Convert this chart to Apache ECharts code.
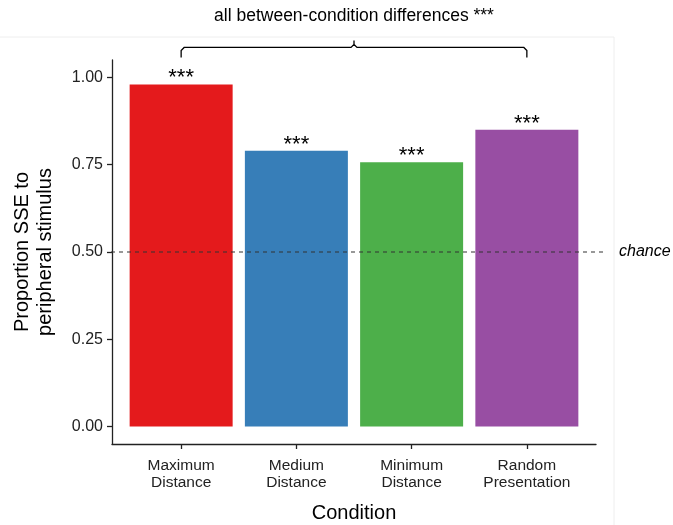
<!DOCTYPE html>
<html>
<head>
<meta charset="utf-8">
<script src="https://cdn.jsdelivr.net/npm/echarts@6/dist/echarts.min.js"></script>
<style>
  html, body { margin: 0; background: #fff; }
  #chart { width: 673px; height: 525px; }
</style>
</head>
<body>
<div id="chart"></div>
<script>
// data
var conditions = ['Maximum\nDistance', 'Medium\nDistance', 'Minimum\nDistance', 'Random\nPresentation'];
var xPositions = [1, 2, 3, 4];
var proportions = [0.98, 0.79, 0.757, 0.85];
var barColors = ['#E41A1C', '#377EB8', '#4DAF4A', '#984EA3'];
var yTicks = [0, 0.25, 0.5, 0.75, 1];
var chanceLevel = 0.5;
var bracketText = 'all between-condition differences ***';

var font = 'Liberation Sans, Arial, sans-serif';
var chart = echarts.init(document.getElementById('chart'));

var option = {
    animation: false,
    backgroundColor: '#fff',
    grid: { left: 112, right: 77, top: 60, bottom: 81, outerBoundsMode: 'none', containLabel: false },
    xAxis: {
        type: 'value',
        min: 0.4,
        max: 4.6,
        name: 'Condition',
        nameLocation: 'middle',
        nameGap: 59,
        nameTextStyle: { fontFamily: font, fontSize: 20, color: '#000' },
        axisLine: { show: true, onZero: false, lineStyle: { color: '#222', width: 1.3 } },
        axisTick: { show: true, customValues: xPositions, length: 5, lineStyle: { color: '#222', width: 1.3 } },
        axisLabel: {
            customValues: xPositions,
            formatter: function (v) { return conditions[Math.round(v) - 1]; },
            fontFamily: font, fontSize: 15.5, color: '#222', lineHeight: 17, margin: 13
        },
        splitLine: { show: false }
    },
    yAxis: {
        type: 'value',
        min: -0.05,
        max: 1.05,
        name: 'Proportion SSE to\nperipheral stimulus',
        nameLocation: 'middle',
        nameGap: 55,
        nameTextStyle: { fontFamily: font, fontSize: 20, color: '#000', lineHeight: 23 },
        axisLine: { show: true, onZero: false, lineStyle: { color: '#222', width: 1.3 } },
        axisTick: { show: true, customValues: yTicks, length: 5, lineStyle: { color: '#222', width: 1.3 } },
        axisLabel: {
            customValues: yTicks,
            formatter: function (v) { return v.toFixed(2); },
            fontFamily: font, fontSize: 16, color: '#222', margin: 9
        },
        splitLine: { show: false }
    },
    series: [{
        type: 'bar',
        barWidth: 103,
        data: xPositions.map(function (x, i) {
            return { value: [x, proportions[i]], itemStyle: { color: barColors[i] } };
        }),
        label: {
            show: true,
            position: 'top',
            distance: -5,
            formatter: '***',
            fontFamily: font, fontSize: 22, color: '#000'
        }
    }]
};
chart.setOption(option);

// annotations placed through the axis scales
function px(x, y) { return chart.convertToPixel({ gridIndex: 0 }, [x, y]); }
var chanceL = px(0.4, chanceLevel);
var left = px(1, 1.057), right = px(4, 1.057);
var barY = px(1, 1.086)[1], midTop = px(2.5, 1.106);
var mid = (left[0] + right[0]) / 2;

chart.setOption({
    graphic: [
        { type: 'line', silent: true, z: 1,
          shape: { x1: 0, y1: 37, x2: 614, y2: 37 },
          style: { stroke: '#eeeeee', lineWidth: 1 } },
        { type: 'line', silent: true, z: 1,
          shape: { x1: 614, y1: 37, x2: 614, y2: 525 },
          style: { stroke: '#eeeeee', lineWidth: 1 } },
        { type: 'line', silent: true, z: 100,
          shape: { x1: chanceL[0] - 1, y1: chanceL[1], x2: 606, y2: chanceL[1] },
          style: { stroke: '#333', lineWidth: 1, lineDash: [4, 4] } },
        { type: 'text', silent: true, z: 100, x: 619, y: chanceL[1],
          style: { text: 'chance', fontFamily: font, fontSize: 16, fontStyle: 'italic',
                   fill: '#000', verticalAlign: 'middle' } },
        { type: 'polyline', silent: true, z: 100,
          shape: { points: [
              [left[0], left[1]], [left[0], barY + 3], [left[0] + 3, barY],
              [mid - 3, barY], [mid, barY - 3], [mid, midTop[1]], [mid, barY - 3],
              [mid + 3, barY], [right[0] - 3, barY], [right[0], barY + 3], [right[0], right[1]]
          ] },
          style: { stroke: '#000', lineWidth: 1.3, fill: null } },
        { type: 'text', silent: true, z: 100, x: mid, y: 16,
          style: { text: bracketText, fontFamily: font, fontSize: 17.5, fill: '#000',
                   align: 'center', verticalAlign: 'middle' } }
    ]
});
</script>
</body>
</html>
